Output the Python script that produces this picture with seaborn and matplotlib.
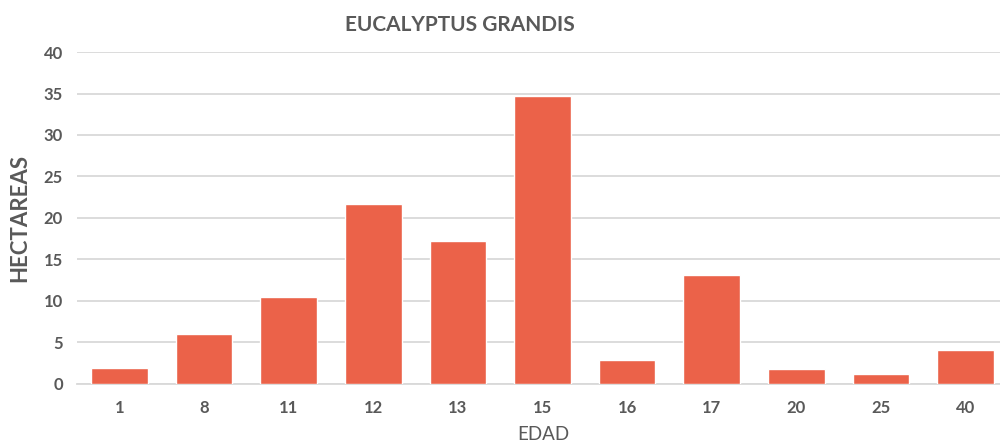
import matplotlib

matplotlib.use("Agg")
import matplotlib.pyplot as plt
import pandas as pd
import seaborn as sns

# values
edades = ["1", "8", "11", "12", "13", "15", "16", "17", "20", "25", "40"]
hectareas = [1.9, 6.0, 10.5, 21.7, 17.2, 34.7, 2.85, 13.1, 1.8, 1.17, 4.07]
y_ticks = [0, 5, 10, 15, 20, 25, 30, 35, 40]

bar_color = "#EB6249"
text_color = "#595959"
grid_color = "#D9D9D9"

sns.set_theme(style="white")
plt.rcParams["font.family"] = ["Lato", "DejaVu Sans"]

df = pd.DataFrame({"edad": edades, "ha": hectareas})

fig = plt.figure(figsize=(10, 4.45), dpi=100)
ax = fig.add_axes([0.077, 0.138, 0.931, 0.745])

sns.barplot(data=df, x="edad", y="ha", order=edades, color=bar_color,
            saturation=1, width=0.67, ax=ax, zorder=3)

ax.set_ylim(0, 40)
ax.set_yticks(y_ticks)
ax.set_xlim(-0.5, len(edades) - 0.5)
ax.grid(axis="y", color=grid_color, linewidth=1.3, zorder=0)
for side in ("top", "right", "left"):
    ax.spines[side].set_visible(False)
ax.spines["bottom"].set_color(grid_color)
ax.spines["bottom"].set_linewidth(1.3)

ax.tick_params(axis="both", length=0, colors=text_color, labelsize=12)
ax.tick_params(axis="x", pad=12)
ax.tick_params(axis="y", pad=10)
for lbl in ax.get_xticklabels() + ax.get_yticklabels():
    lbl.set_fontweight("bold")

ax.set_xlabel("")
ax.set_ylabel("")
fig.text(0.543, 0.004, "EDAD", ha="center", va="bottom",
         fontsize=13.5, color=text_color)
fig.text(0.02, 0.51, "HECTAREAS", ha="center", va="center", rotation=90,
         fontsize=16, fontweight="bold", color=text_color)
fig.text(0.46, 0.944, "EUCALYPTUS GRANDIS", ha="center", va="center",
         fontsize=15, fontweight="bold", color=text_color)

fig.savefig("out.png", dpi=100, facecolor="white")
plt.close(fig)
